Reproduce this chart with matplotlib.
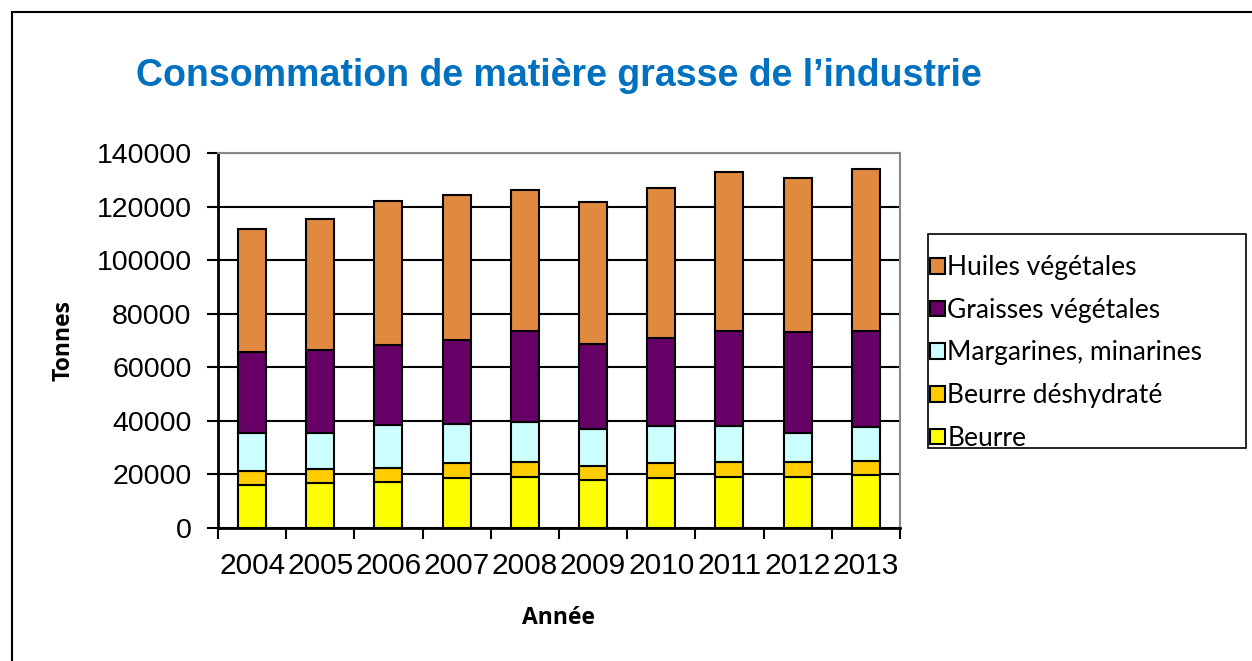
import matplotlib.pyplot as plt
from matplotlib.patches import Rectangle
import numpy as np

annees = ['2004', '2005', '2006', '2007', '2008', '2009', '2010', '2011', '2012', '2013']
# valeurs (tonnes)
beurre = [15900, 16700, 17300, 18600, 19200, 17900, 18800, 19200, 19200, 19800]
beurre_desh = [5400, 5200, 5200, 5500, 5400, 5400, 5300, 5300, 5300, 5300]
margarines = [14300, 13700, 15800, 14700, 14800, 13800, 14100, 13700, 11100, 12700]
graisses = [30100, 30800, 30100, 31500, 34300, 31500, 32800, 35500, 37400, 35900]
huiles = [45800, 49100, 53600, 53900, 52500, 53200, 56000, 59100, 57800, 60400]

series = [
    ('Beurre', beurre, '#FFFF00'),
    ('Beurre déshydraté', beurre_desh, '#FFCC00'),
    ('Margarines, minarines', margarines, '#CCFFFF'),
    ('Graisses végétales', graisses, '#660066'),
    ('Huiles végétales', huiles, '#E08A40'),
]

fig = plt.figure(figsize=(12.52, 6.61), dpi=100)
ax = fig.add_axes([0.1741, 0.2012, 0.5447, 0.5673])

x = np.arange(len(annees))
bas = np.zeros(len(annees))
barres = []
for nom, vals, coul in series:
    b = ax.bar(x, vals, 0.41, bottom=bas, color=coul, edgecolor='black', linewidth=1.5, label=nom, zorder=3)
    barres.append(b)
    bas = bas + np.array(vals)

ax.set_ylim(0, 140000)
ax.set_xlim(-0.5, 9.5)
ax.set_yticks(range(0, 140001, 20000))
ax.set_xticks(x)
ax.set_xticklabels(annees)
ax.set_xticks(np.arange(-0.5, 10, 1), minor=True)
ax.tick_params(axis='x', which='major', length=0, pad=17)
ax.tick_params(axis='x', which='minor', length=8, width=1.5, direction='out')
ax.tick_params(axis='y', length=8, width=1.5, direction='out', pad=11)
for lab in ax.get_xticklabels():
    lab.set_fontsize(21.5)
    lab.set_family('Liberation Sans')
for lab in ax.get_yticklabels():
    lab.set_fontsize(20.5)
    lab.set_family('Liberation Sans')
ax.grid(axis='y', color='black', linewidth=1.5, zorder=0)
ax.spines['left'].set_linewidth(2)
ax.spines['bottom'].set_linewidth(2)
ax.spines['top'].set_color('#888888')
ax.spines['right'].set_color('#888888')
ax.spines['top'].set_linewidth(1.5)
ax.spines['right'].set_linewidth(1.5)

ax.set_ylabel('Tonnes', fontsize=16.5, fontweight='bold', family='Open Sans', labelpad=15)
ax.set_xlabel('Année', fontsize=16.5, fontweight='bold', family='Open Sans', labelpad=19)

fig.text(0.446, 0.885, 'Consommation de matière grasse de l’industrie', fontsize=27,
         fontweight='bold', color='#0070C0', family='Liberation Sans', ha='center', va='center')

h = barres[::-1]
labs = [s[0] for s in series][::-1]
leg = fig.legend(h, labs, loc='upper left', bbox_to_anchor=(0.7260, 0.3222, 0.254, 0.3238),
                 mode='expand', borderaxespad=0, frameon=False,
                 handlelength=0.55, handleheight=0.55, handletextpad=0.1,
                 labelspacing=0.67, prop={'family': 'Lato', 'size': 19}, borderpad=0.8)

# cadre de la légende
fig.patches.append(Rectangle((928 / 1252, 1 - 448 / 661), 318 / 1252, 214 / 661, transform=fig.transFigure,
                             fill=False, edgecolor='black', linewidth=1.2))

# cadre extérieur
fig.patches.append(Rectangle((12 / 1252, -0.1), 1.2, 1 - 12 / 661 + 0.1, transform=fig.transFigure,
                             fill=False, edgecolor='black', linewidth=1.5))

fig.savefig('out.png', dpi=100)
